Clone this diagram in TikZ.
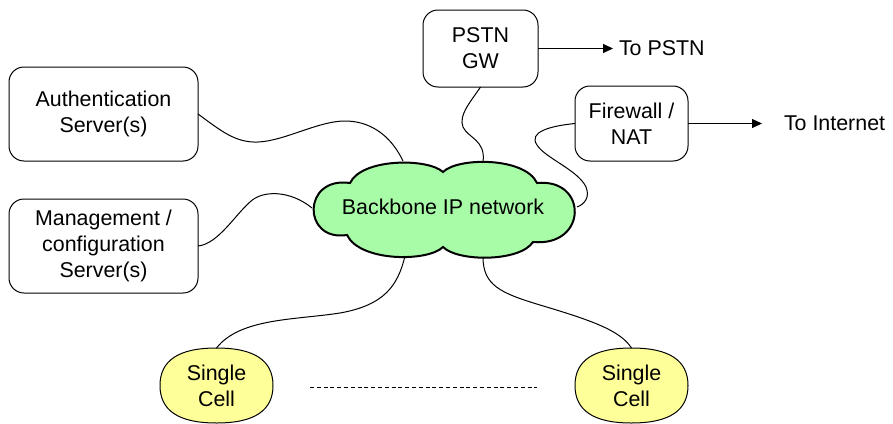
\documentclass[tikz,border=0pt]{standalone}
\usepackage{fontspec}
\setmainfont{Liberation Sans}
\usetikzlibrary{arrows.meta}
\definecolor{cloudgreen}{RGB}{168,252,168}
\definecolor{cellyellow}{RGB}{255,255,153}
\tikzset{
  server/.style={draw, line width=0.5pt, rounded corners=7.5pt, align=center,
    inner sep=0pt, outer sep=0pt, font=\fontsize{10.7}{13}\selectfont},
  label/.style={inner sep=0pt, outer sep=0pt, font=\fontsize{10.7}{13}\selectfont},
  cellspot/.style={inner sep=0pt, outer sep=0pt, minimum width=56.5pt,
    minimum height=37.5pt, align=center, font=\fontsize{10.7}{13}\selectfont},
  link/.style={line width=0.5pt},
  uplink/.style={line width=0.5pt, -{Triangle[length=5pt,width=4.5pt]}},
  cellshape/.style={draw, line width=0.5pt, fill=cellyellow},
}
\begin{document}
\begin{tikzpicture}[x=0.5pt, y=-0.5pt]
\useasboundingbox (0,0) rectangle (893,423);

% server boxes
\node[server, minimum width=94.5pt, minimum height=47pt] (auth) at (103.5,114)
  {Authentication\\Server(s)};
\node[server, minimum width=94.5pt, minimum height=47pt] (mgmt) at (103.5,246)
  {Management /\\configuration\\Server(s)};
\node[server, minimum width=57.5pt, minimum height=38.5pt] (pstn) at (480.5,48.5)
  {PSTN\\GW};
\node[server, minimum width=56.5pt, minimum height=37.5pt] (fw) at (631.5,123.5)
  {Firewall /\\NAT};

% external destinations
\node[label, anchor=west] (topstn) at (619,48.5) {To PSTN};
\node[label, anchor=west] (tonet) at (784,123.5) {To Internet};
\draw[uplink, shorten >=3pt] (pstn.east) -- (topstn.west);
\draw[uplink, shorten >=11pt] (fw.east) -- (tonet.west);

% backbone cloud
\draw[line width=1pt, fill=cloudgreen]
  (350,183) .. controls (362,158) and (428,158) .. (443,172)
            .. controls (458,157) and (525,157) .. (537,183)
            .. controls (588,178) and (588,247) .. (533,242)
            .. controls (520,262) and (458,262) .. (443,247)
            .. controls (428,262) and (360,262) .. (347,235)
            .. controls (302,242) and (302,176) .. (350,183) -- cycle;
\node[label] (bb) at (443,207) {Backbone IP network};
\coordinate (bbAuth) at (403,161);
\coordinate (bbMgmt) at (312,208);
\coordinate (bbPstn) at (483,162);
\coordinate (bbFw) at (577,207);
\coordinate (bbCellL) at (405,256);
\coordinate (bbCellR) at (483,257);

% single cells
\node[cellspot] (cellL) at (216.5,385.5) {};
\node[cellspot] (cellR) at (631.5,385.5) {};
\foreach \c in {cellL, cellR} {
  \draw[cellshape] (\c.north) .. controls +(38,0) and +(0,-25) .. (\c.east)
    .. controls +(0,25) and +(38,0) .. (\c.south)
    .. controls +(-38,0) and +(0,25) .. (\c.west)
    .. controls +(0,-25) and +(-38,0) .. (\c.north) -- cycle;
}
\node[cellspot] at (cellL) {Single\\Cell};
\node[cellspot] at (cellR) {Single\\Cell};

% dotted run between the cells
\coordinate (dotA) at (310,387);
\coordinate (dotB) at (537,387);
\draw[line width=0.5pt, dash pattern=on 2pt off 1.4pt] (dotA) -- (dotB);

% links to the backbone
\draw[link] (auth.east) .. controls (220,130) and (235,143) .. (258,142)
  .. controls (285,141) and (320,120) .. (347,121)
  .. controls (375,122) and (393,140) .. (bbAuth);
\draw[link] (mgmt.east) .. controls (218,244) and (235,215) .. (250,202)
  .. controls (262,190) and (290,190) .. (bbMgmt);
\draw[link] (pstn.south) .. controls (472,100) and (458,115) .. (463,127)
  .. controls (468,138) and (486,140) .. (bbPstn);
\draw[link] (fw.west) .. controls (550,126) and (528,132) .. (537,145)
  .. controls (545,158) and (578,170) .. (586,187)
  .. controls (590,197) and (585,204) .. (bbFw);
\draw[link] (bbCellL) .. controls (398,285) and (385,305) .. (340,313)
  .. controls (295,320) and (240,318) .. (cellL.north);
\draw[link] (bbCellR) .. controls (483,285) and (500,293) .. (540,305)
  .. controls (590,320) and (620,330) .. (cellR.north);
\end{tikzpicture}
\end{document}
